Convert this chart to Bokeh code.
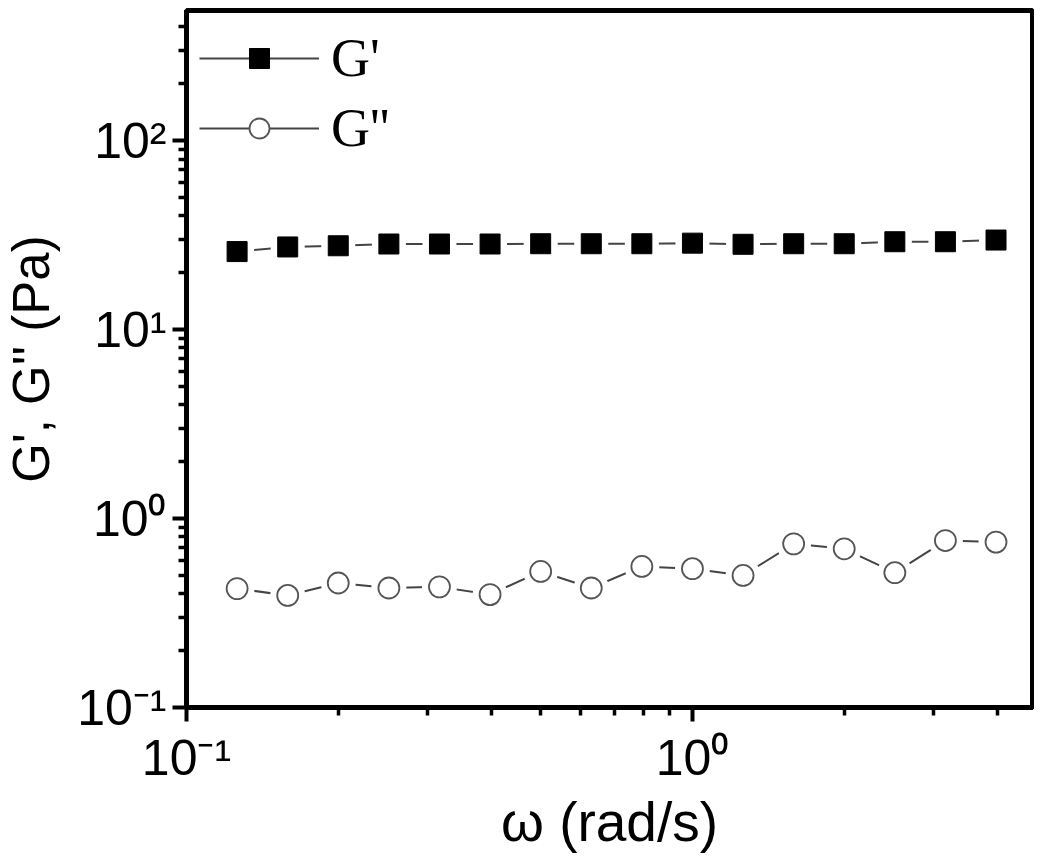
from bokeh.plotting import figure
from bokeh.models import (Range1d, FixedTicker, CustomJSTickFormatter, Legend,
                          LegendItem, ColumnDataSource)
from bokeh.embed import file_html
from bokeh.resources import INLINE

# ---- data ----
omega = [0.1259, 0.1585, 0.1995, 0.2512, 0.3162, 0.3981, 0.5012, 0.6310,
         0.7943, 1.0, 1.259, 1.585, 1.995, 2.512, 3.162, 3.981]
g_prime = [25.9, 27.4, 27.8, 28.4, 28.4, 28.4, 28.5, 28.5,
           28.5, 28.7, 28.3, 28.5, 28.5, 29.2, 29.2, 29.8]
g_double = [0.426, 0.392, 0.456, 0.429, 0.435, 0.396, 0.525, 0.429,
            0.558, 0.543, 0.500, 0.735, 0.692, 0.517, 0.765, 0.751]

x_major = [0.1, 1.0]
x_minor = [0.2, 0.3, 0.4, 0.5, 0.6, 0.7, 0.8, 0.9, 2.0, 3.0, 4.0]
y_major = [0.1, 1.0, 10.0, 100.0]
y_minor = [m * d for d in (0.1, 1.0, 10.0, 100.0) for m in range(2, 10)]

src = ColumnDataSource(dict(w=omega, gp=g_prime, gpp=g_double))

p = figure(width=1034, height=855, x_axis_type="log", y_axis_type="log",
           x_range=Range1d(0.1, 4.70), y_range=Range1d(0.1, 489),
           output_backend="svg", toolbar_location=None,
           min_border_left=185, min_border_right=2, min_border_top=10,
           min_border_bottom=146)

p.xgrid.visible = False
p.ygrid.visible = False
p.outline_line_color = "black"
p.outline_line_width = 5

fmt = CustomJSTickFormatter(code="""
const e = Math.round(Math.log10(tick));
const m = {"-":"\\u207B","0":"\\u2070","1":"\\u00B9","2":"\\u00B2","3":"\\u00B3"};
return "10" + String(e).split("").map(c => m[c]).join("");
""")

for ax, maj, mnr in ((p.xaxis[0], x_major, x_minor), (p.yaxis[0], y_major, y_minor)):
    ax.ticker = FixedTicker(ticks=maj, minor_ticks=mnr)
    ax.formatter = fmt
    ax.axis_line_width = 5
    ax.axis_line_color = "black"
    ax.major_tick_in = 0
    ax.major_tick_out = 14
    ax.major_tick_line_width = 4
    ax.minor_tick_in = 0
    ax.minor_tick_out = 8
    ax.minor_tick_line_width = 3.5
    ax.major_label_text_font = "Liberation Sans"
    ax.major_label_text_font_size = "50px"
    ax.major_label_text_color = "black"
    ax.axis_label_text_font = "Liberation Sans"
    ax.axis_label_text_font_style = "normal"
    ax.axis_label_text_color = "black"

p.xaxis.axis_label = "\u03c9 (rad/s)"
p.yaxis.axis_label = "G', G'' (Pa)"
p.xaxis.axis_label_text_font_size = "55px"
p.yaxis.axis_label_text_font_size = "51px"
p.xaxis.major_label_standoff = 8
p.xaxis.axis_label_standoff = 2
p.yaxis.major_label_standoff = 6
p.yaxis.axis_label_standoff = 14

# G' series
l1 = p.line("w", "gp", source=src, line_color="#444444", line_width=2)
h1 = p.scatter("w", "gp", source=src, marker="square", size=34,
               fill_color="white", line_color=None)
m1 = p.scatter("w", "gp", source=src, marker="square", size=20,
               fill_color="black", line_color="black")

# G'' series
l2 = p.line("w", "gpp", source=src, line_color="#444444", line_width=2)
h2 = p.scatter("w", "gpp", source=src, marker="circle", size=35,
               fill_color="white", line_color=None)
m2 = p.scatter("w", "gpp", source=src, marker="circle", size=21,
               fill_color="white", line_color="#555555", line_width=1.8)

legend = Legend(items=[LegendItem(label="G'", renderers=[l1, m1]),
                       LegendItem(label="G''", renderers=[l2, m2])],
                location="top_left", margin=13, padding=0, spacing=-5,
                glyph_width=120, glyph_height=50, label_height=70,
                label_standoff=12, border_line_color=None,
                background_fill_alpha=0,
                label_text_font="Liberation Serif",
                label_text_font_size="54px", label_text_color="black")
p.add_layout(legend)

open("out.html", "w").write(file_html(p, INLINE))
